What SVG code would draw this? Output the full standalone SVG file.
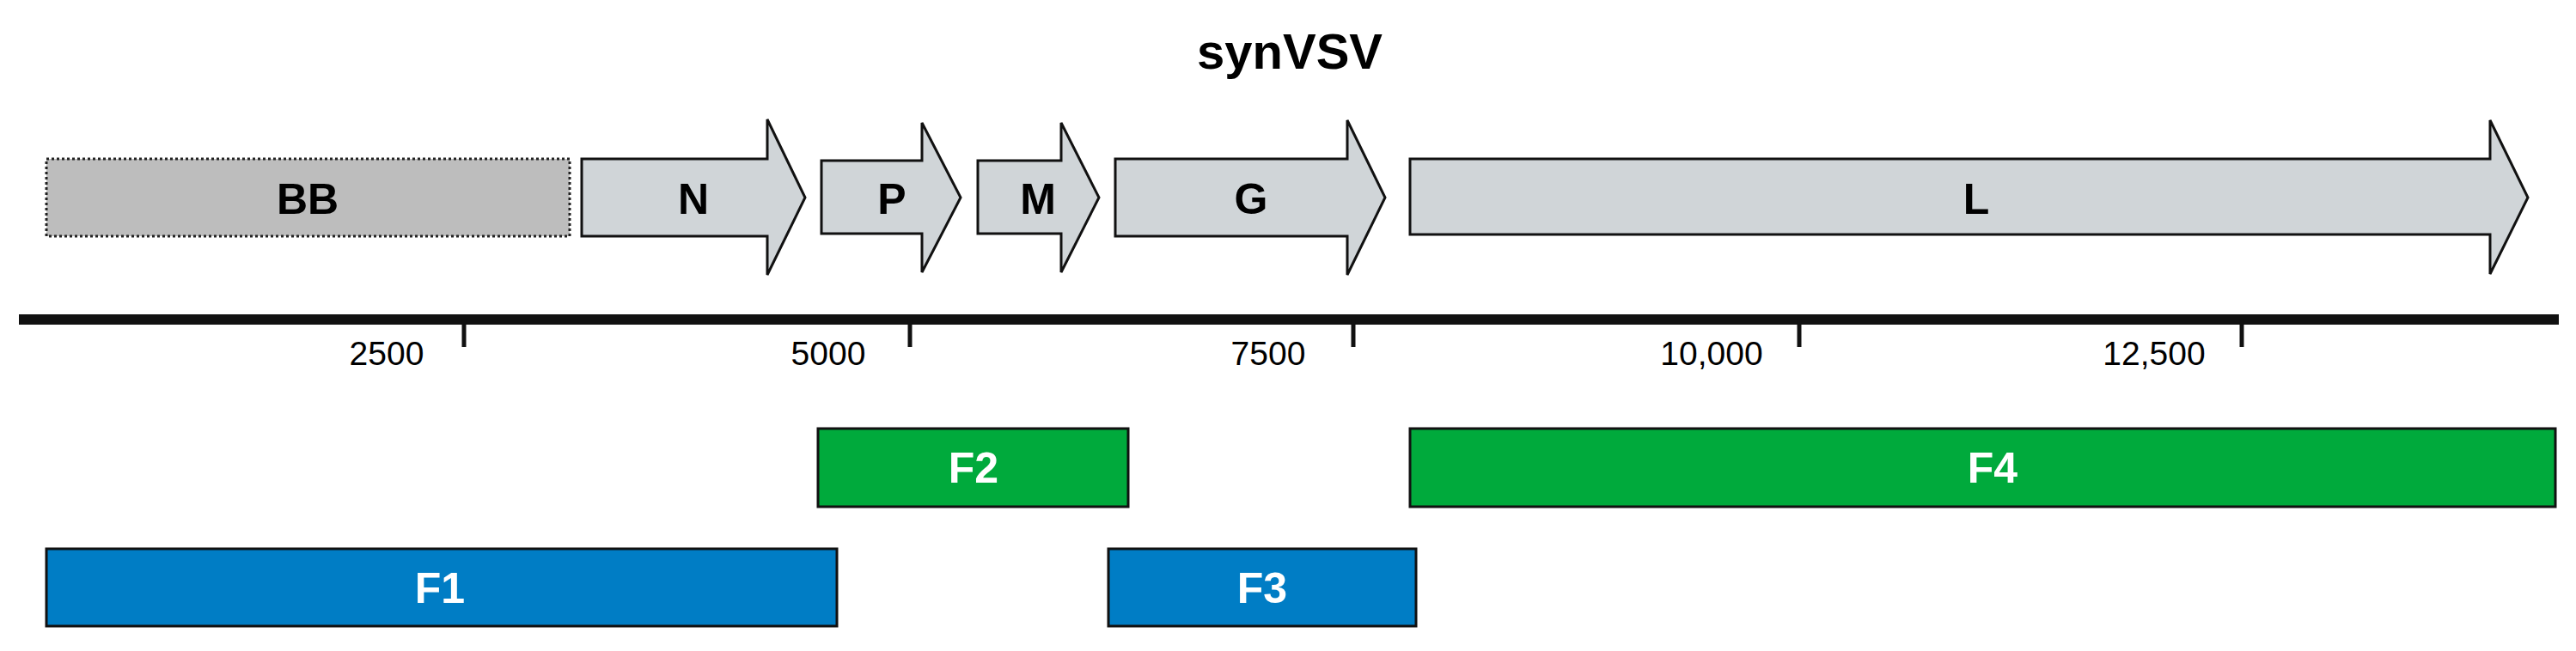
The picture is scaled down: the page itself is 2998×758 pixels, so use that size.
<svg xmlns="http://www.w3.org/2000/svg" width="2998" height="758" viewBox="0 0 2998 758">
<style>
.gene{fill:#D0D5D8;stroke:#111;stroke-width:3;stroke-linejoin:miter}
.lbl{font-family:"Liberation Sans",Arial,sans-serif;font-weight:bold;font-size:50px;text-anchor:middle}
.wl{fill:#fff}
.tick{font-family:"Liberation Sans",Arial,sans-serif;font-size:39px;text-anchor:middle}
.frag{stroke:#111;stroke-width:3}
</style>
<rect width="2998" height="758" fill="#fff"/>
<text x="1501" y="80" class="lbl" font-size="58" style="font-size:58px">synVSV</text>
<g id="BB"><rect x="54" y="185" width="609" height="90" fill="#BDBDBD" stroke="#222" stroke-width="3" stroke-dasharray="3,3"/><text x="358" y="249" class="lbl">BB</text></g>
<g id="N"><polygon class="gene" points="677,185 893,185 893,139 937,230 893,320 893,275 677,275"/><text x="807" y="249" class="lbl">N</text></g>
<g id="P"><polygon class="gene" points="956,187 1073,187 1073,143 1118,230 1073,317 1073,272 956,272"/><text x="1038" y="249" class="lbl">P</text></g>
<g id="M"><polygon class="gene" points="1138,187 1235,187 1235,143 1279,230 1235,317 1235,272 1138,272"/><text x="1208" y="249" class="lbl">M</text></g>
<g id="G"><polygon class="gene" points="1298,185 1568,185 1568,140 1612,230 1568,320 1568,275 1298,275"/><text x="1456" y="249" class="lbl">G</text></g>
<g id="L"><polygon class="gene" points="1641,185 2898,185 2898,140 2942,230 2898,319 2898,273 1641,273"/><text x="2300" y="249" class="lbl">L</text></g>
<g id="axis">
<rect x="22" y="366" width="2956" height="12" fill="#111"/>
<g stroke="#111" stroke-width="5"><line x1="540" y1="372" x2="540" y2="404"/><line x1="1059" y1="372" x2="1059" y2="404"/><line x1="1575" y1="372" x2="1575" y2="404"/><line x1="2094" y1="372" x2="2094" y2="404"/><line x1="2609" y1="372" x2="2609" y2="404"/></g>
<text x="450" y="425" class="tick">2500</text><text x="964" y="425" class="tick">5000</text><text x="1476" y="425" class="tick">7500</text><text x="1992" y="425" class="tick">10,000</text><text x="2507" y="425" class="tick">12,500</text>
</g>
<g id="F2"><rect class="frag" x="952" y="499" width="361" height="91" fill="#00AA3C"/><text x="1133" y="562" class="lbl wl">F2</text></g>
<g id="F4"><rect class="frag" x="1641" y="499" width="1333" height="91" fill="#00AA3C"/><text x="2319" y="562" class="lbl wl">F4</text></g>
<g id="F1"><rect class="frag" x="54" y="639" width="920" height="90" fill="#007DC5"/><text x="512" y="702" class="lbl wl">F1</text></g>
<g id="F3"><rect class="frag" x="1290" y="639" width="358" height="90" fill="#007DC5"/><text x="1469" y="702" class="lbl wl">F3</text></g>
<g id="connectors"/>
</svg>
